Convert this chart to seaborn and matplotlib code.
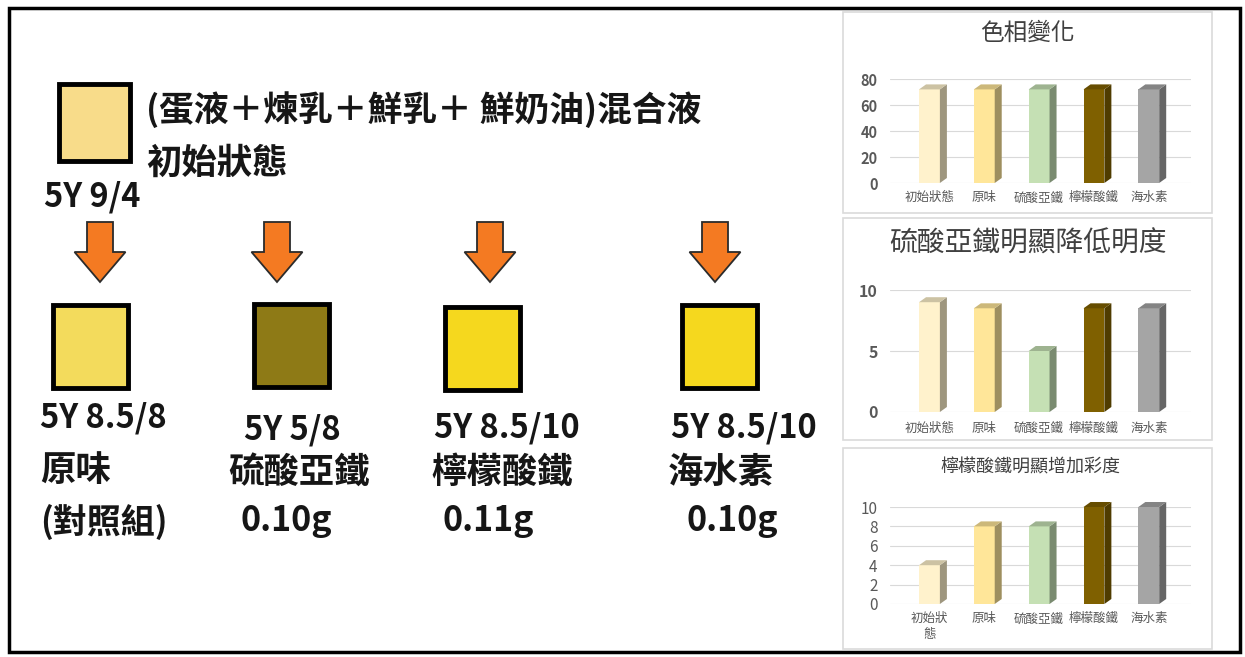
import numpy as np
import matplotlib
matplotlib.use("Agg")
import matplotlib.pyplot as plt
import seaborn as sns
from matplotlib.patches import Rectangle, Polygon, FancyArrow
from matplotlib.colors import to_rgb

# ---- data ----
categories = ["初始狀態", "原味", "硫酸亞鐵", "檸檬酸鐵", "海水素"]
hue_vals = [72, 72, 72, 72, 72]
value_vals = [9, 8.5, 5, 8.5, 8.5]
chroma_vals = [4, 8, 8, 10, 10]
chart_titles = ["色相變化", "硫酸亞鐵明顯降低明度", "檸檬酸鐵明顯增加彩度"]

mix_title = "(蛋液＋煉乳＋鮮乳＋ 鮮奶油)混合液"
init_label = "初始狀態"
init_code = "5Y 9/4"
sample_codes = ["5Y 8.5/8", "5Y 5/8", "5Y 8.5/10", "5Y 8.5/10"]
sample_names = ["原味", "硫酸亞鐵", "檸檬酸鐵", "海水素"]
sample_amounts = ["(對照組)", "0.10g", "0.11g", "0.10g"]

bar_colors = ["#FFF2CC", "#FFE699", "#C5E0B4", "#7F6000", "#A5A5A5"]
init_swatch = "#F8DC8A"
swatch_colors = ["#F3DB5C", "#8E7A16", "#F5D81E", "#F5D81E"]

W, H = 1245, 657
sns.set_style("white")
plt.rcParams['font.family'] = ['Noto Sans CJK TC', 'DejaVu Sans']

fig = plt.figure(figsize=(W / 100, H / 100), dpi=100)
fig.patch.set_facecolor("white")

# full-figure canvas in pixel coords (y down)
cv = fig.add_axes([0, 0, 1, 1])
cv.set_xlim(0, W)
cv.set_ylim(H, 0)
cv.axis("off")

# outer frame
cv.add_patch(Rectangle((9, 8), 1231, 644, fill=False, ec="black", lw=2.5))

txt = dict(fontsize=23.5, fontweight="bold", color="#161616", va="center", ha="left")
cjk = dict(txt, fontsize=25.5)

# initial swatch + text
cv.add_patch(Rectangle((59, 84), 71, 77, fc=init_swatch, ec="black", lw=3.5))
cv.text(146, 110, mix_title, **dict(txt, fontsize=25))
cv.text(146, 163, init_label, **cjk)
cv.text(44, 197, init_code, **txt)

arrow_x = [100, 277, 490, 715]
sw_x = [53, 254, 445, 682]
sw_y = [305, 304, 307, 305]
code_pos = [(40, 418), (244, 430), (434, 428), (671, 428)]
name_pos = [(40, 471), (228, 472), (431, 472), (668, 472)]
amt_pos = [(40, 522), (240, 521), (443, 521), (686, 521)]

for i in range(4):
    cv.add_patch(FancyArrow(arrow_x[i], 222, 0, 60, width=26, head_width=51,
                            head_length=30, length_includes_head=True,
                            fc="#F47A22", ec="#2B2B2B", lw=1.3))
    cv.add_patch(Rectangle((sw_x[i], sw_y[i]), 75, 83, fc=swatch_colors[i],
                           ec="black", lw=3.5))
    cv.text(*code_pos[i], sample_codes[i], **txt)
    cv.text(*name_pos[i], sample_names[i], **cjk)
    cv.text(*amt_pos[i], sample_amounts[i], **dict(txt, fontsize=24.5))

# chart panels
panels = [(843, 12, 1212, 213), (843, 218, 1212, 440), (843, 448, 1212, 649)]
for x0, y0, x1, y1 in panels:
    cv.add_patch(Rectangle((x0, y0), x1 - x0, y1 - y0, fill=False,
                           ec="#DADADA", lw=1.2))


def px_axes(left, top, right, bottom):
    return fig.add_axes([left / W, (H - bottom) / H, (right - left) / W, (bottom - top) / H])


def darker(c, f=0.62):
    r, g, b = to_rgb(c)
    return (r * f, g * f, b * f)


def bar3d(ax, vals, ylim, ticks, ax_px, tick_kw, labels, lab_pad):
    sns.barplot(x=categories, y=vals, hue=categories, palette=bar_colors,
                legend=False, width=0.38, saturation=1, ax=ax, zorder=3)
    ax.set_xlim(-0.72, 4.77)
    ax.set_ylim(*ylim)
    ax.set_yticks(ticks)
    ax.set_xticks(range(len(categories)))
    ax.set_xticklabels(labels, fontsize=9, color="#595959", linespacing=1.3)
    ax.tick_params(axis="x", length=0, pad=lab_pad)
    ax.tick_params(axis="y", length=0, pad=9)
    for t in ax.get_yticklabels():
        t.set(**tick_kw)
    ax.set_xlabel("")
    ax.set_ylabel("")
    ax.yaxis.grid(True, color="#D9D9D9", lw=0.8)
    ax.set_axisbelow(True)
    sns.despine(ax=ax, left=True, bottom=True)
    wpx, hpx = ax_px
    dx = 7 * (4.77 + 0.72) / wpx
    dy = 5 * (ylim[1] - ylim[0]) / hpx
    for p, c in zip(ax.patches, bar_colors):
        x, w, h = p.get_x(), p.get_width(), p.get_height()
        p.set_edgecolor("none")
        ax.add_patch(Polygon([(x + w, 0), (x + w + dx, dy), (x + w + dx, h + dy), (x + w, h)],
                             fc=darker(c), ec="none", zorder=3, clip_on=False))
        ax.add_patch(Polygon([(x, h), (x + dx, h + dy), (x + w + dx, h + dy), (x + w, h)],
                             fc=darker(c, 0.8), ec="none", zorder=3, clip_on=False))


bold_tick = dict(fontsize=10.5, fontweight="bold", color="#595959")
plain_tick = dict(fontsize=11, color="#595959")
wrapped = ["初始狀\n態"] + categories[1:]

ax1 = px_axes(890, 79, 1191, 183)
bar3d(ax1, hue_vals, (0, 80), [0, 20, 40, 60, 80], (301, 104), bold_tick, categories, 6)
ax2 = px_axes(890, 290, 1191, 412)
bar3d(ax2, value_vals, (0, 10), [0, 5, 10], (301, 122), dict(bold_tick, fontsize=11.5), categories, 7)
ax3 = px_axes(890, 507, 1191, 604)
bar3d(ax3, chroma_vals, (0, 10), [0, 2, 4, 6, 8, 10], (301, 97), plain_tick, wrapped, 6)

title_pos = [(1027, 33, 17), (1028, 244, 20), (1030, 468, 13)]
for (x, y, fs), t in zip(title_pos, chart_titles):
    fig.text(x / W, 1 - y / H, t, ha="center", va="center", fontsize=fs, color="#404040")

fig.savefig("out.png", dpi=100, facecolor="white")
